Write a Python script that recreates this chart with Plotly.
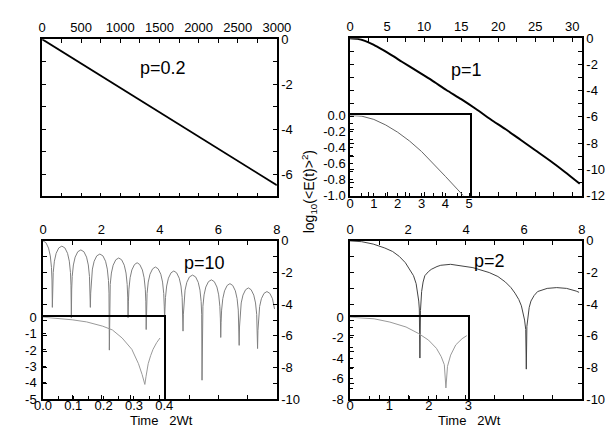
import plotly.graph_objects as go

W, H = 613, 433

# ---------------- data ----------------
# Panel p=0.2 (top-left)
p02_t = [0, 500, 1000, 1500, 2000, 2500, 3000]
p02_y = [0, -1.08, -2.17, -3.25, -4.33, -5.42, -6.5]

# Panel p=1 (top-right) main curve
p1_t = [0, 1, 2, 3, 4, 5, 6, 7, 9, 11, 13, 15, 17, 19, 21, 23, 25, 27, 29, 31]
p1_y = [0, -0.05, -0.21, -0.46, -0.76, -1.08, -1.43, -1.8, -2.5, -3.2, -3.95, -4.65,
        -5.4, -6.2, -6.95, -7.75, -8.55, -9.35, -10.2, -11.1]
# Panel p=1 inset
p1i_t = [0, 0.5, 1, 1.5, 2, 2.5, 3, 3.5, 4, 4.5, 4.75]
p1i_y = [0, -0.01, -0.05, -0.12, -0.21, -0.32, -0.45, -0.6, -0.76, -0.92, -1.0]

# Panel p=10 (bottom-left) main curve
p10_t = [0, 0.1, 0.19, 0.25, 0.29, 0.308, 0.32,
         0.332, 0.35, 0.39, 0.45, 0.54, 0.645, 0.75, 0.84, 0.90, 0.94, 0.958, 0.97,
         0.982, 1.00, 1.04, 1.10, 1.19, 1.295, 1.40, 1.49, 1.55, 1.59, 1.608, 1.62,
         1.632, 1.65, 1.69, 1.75, 1.84, 1.945, 2.05, 2.14, 2.20, 2.24, 2.258, 2.27,
         2.282, 2.30, 2.34, 2.40, 2.49, 2.59, 2.69, 2.78, 2.84, 2.88, 2.898, 2.91,
         2.922, 2.94, 2.98, 3.04, 3.13, 3.22, 3.31, 3.40, 3.46, 3.50, 3.518, 3.53,
         3.542, 3.56, 3.60, 3.66, 3.75, 3.845, 3.94, 4.03, 4.09, 4.13, 4.148, 4.16,
         4.172, 4.19, 4.23, 4.29, 4.38, 4.475, 4.57, 4.66, 4.72, 4.76, 4.778, 4.79,
         4.802, 4.82, 4.86, 4.92, 5.01, 5.115, 5.22, 5.31, 5.37, 5.41, 5.428, 5.44,
         5.452, 5.47, 5.51, 5.57, 5.66, 5.76, 5.86, 5.95, 6.01, 6.05, 6.068, 6.08,
         6.092, 6.11, 6.15, 6.21, 6.30, 6.395, 6.49, 6.58, 6.64, 6.68, 6.698, 6.71,
         6.722, 6.74, 6.78, 6.84, 6.93, 7.025, 7.12, 7.21, 7.27, 7.31, 7.328, 7.34,
         7.352, 7.37, 7.41, 7.47, 7.56, 7.66, 7.76, 7.85, 7.92]
p10_y = [0, -0.11, -0.455, -0.95, -1.67, -2.47, -4.2,
         -2.80, -2.00, -1.28, -0.785, -0.444, -0.33, -0.444, -0.785, -1.28, -2.00, -2.80, -4.85,
         -3.04, -2.24, -1.52, -1.025, -0.684, -0.57, -0.684, -1.025, -1.52, -2.24, -3.04, -4.2,
         -3.30, -2.50, -1.78, -1.285, -0.944, -0.83, -0.944, -1.285, -1.78, -2.50, -3.30, -6.9,
         -3.55, -2.75, -2.03, -1.535, -1.194, -1.08, -1.194, -1.535, -2.03, -2.75, -3.55, -4.85,
         -3.85, -3.05, -2.33, -1.835, -1.494, -1.38, -1.494, -1.835, -2.33, -3.05, -3.85, -5.6,
         -4.12, -3.32, -2.60, -2.105, -1.764, -1.65, -1.764, -2.105, -2.60, -3.32, -4.12, -4.9,
         -4.37, -3.57, -2.85, -2.355, -2.014, -1.9, -2.014, -2.355, -2.85, -3.57, -4.37, -5.7,
         -4.63, -3.83, -3.11, -2.615, -2.274, -2.16, -2.274, -2.615, -3.11, -3.83, -4.63, -8.8,
         -4.93, -4.13, -3.41, -2.915, -2.574, -2.46, -2.574, -2.915, -3.41, -4.13, -4.93, -6.1,
         -5.17, -4.37, -3.65, -3.155, -2.814, -2.7, -2.814, -3.155, -3.65, -4.37, -5.17, -6.6,
         -5.44, -4.64, -3.92, -3.425, -3.084, -2.97, -3.084, -3.425, -3.92, -4.64, -5.44, -6.8,
         -5.67, -4.87, -4.15, -3.655, -3.314, -3.2, -3.314, -3.655, -4.3]
# Panel p=10 inset
p10i_t = [0, 0.048, 0.096, 0.144, 0.197, 0.229, 0.261, 0.293, 0.315, 0.327, 0.333,
          0.336, 0.34, 0.347, 0.355, 0.363, 0.375, 0.386]
p10i_y = [0, -0.06, -0.16, -0.29, -0.55, -0.78, -1.27, -1.96, -2.84, -3.5, -3.95,
          -4.1, -3.6, -2.84, -2.35, -1.96, -1.55, -1.27]

# Panel p=2 (bottom-right) main curve
p2_t = [0, 0.4, 0.8, 1.2, 1.47, 1.7, 1.91, 2.05, 2.19, 2.28, 2.33, 2.37, 2.39, 2.41,
        2.43, 2.45, 2.47, 2.52, 2.58, 2.7, 2.8, 3.0, 3.13, 3.47, 3.8, 4.24, 4.8, 5.1,
        5.36, 5.55, 5.69, 5.82, 5.91, 5.97, 6.02, 6.06, 6.08, 6.10, 6.13, 6.18, 6.24,
        6.35, 6.47, 6.8, 7.13, 7.47, 7.8, 7.9]
p2_y = [0, -0.05, -0.2, -0.45, -0.67, -0.98, -1.38, -1.75, -2.2, -2.7, -3.2, -3.8,
        -4.3, -7.4, -4.4, -3.7, -3.2, -2.6, -2.2, -1.95, -1.8, -1.62, -1.54, -1.48,
        -1.55, -1.69, -2.0, -2.25, -2.6, -2.95, -3.3, -3.7, -4.1, -4.5, -5.0, -5.6,
        -8.1, -5.4, -4.8, -4.2, -3.8, -3.45, -3.2, -3.0, -2.95, -3.0, -3.17, -3.25]
# Panel p=2 inset
p2i_t = [0, 0.61, 1.01, 1.42, 1.74, 1.99, 2.19, 2.31, 2.39, 2.43, 2.47, 2.55, 2.68,
         2.84, 2.96]
p2i_y = [0, -0.16, -0.48, -0.96, -1.6, -2.24, -3.04, -3.84, -4.64, -6.9, -4.8, -3.7,
         -2.7, -2.1, -1.8]

# ---------------- tick labels ----------------
ax1_xvals = [0, 250, 500, 750, 1000, 1250, 1500, 1750, 2000, 2250, 2500, 2750, 3000]
ax1_xtext = ["0", "", "500", "", "1000", "", "1500", "", "2000", "", "2500", "", "3000"]
ax1_yvals = [0, -1, -2, -3, -4, -5, -6, -7]
ax1_ytext = ["0", "", "-2", "", "-4", "", "-6", ""]

ax2_xvals = [0, 2.5, 5, 7.5, 10, 12.5, 15, 17.5, 20, 22.5, 25, 27.5, 30]
ax2_xtext = ["0", "", "5", "", "10", "", "15", "", "20", "", "25", "", "30"]
ax2_yvals = [0, -1, -2, -3, -4, -5, -6, -7, -8, -9, -10, -11, -12]
ax2_ytext = ["0", "", "-2", "", "-4", "", "-6", "", "-8", "", "-10", "", "-12"]

ax34_xvals = [0, 1, 2, 3, 4, 5, 6, 7, 8]
ax34_xtext = ["0", "", "2", "", "4", "", "6", "", "8"]
ax34_yvals = [0, -1, -2, -3, -4, -5, -6, -7, -8, -9, -10]
ax34_ytext = ["0", "", "-2", "", "-4", "", "-6", "", "-8", "", "-10"]

in2_xvals = [0, 0.5, 1, 1.5, 2, 2.5, 3, 3.5, 4, 4.5, 5]
in2_xtext = ["0", "", "1", "", "2", "", "3", "", "4", "", "5"]
in2_yvals = [0, -0.1, -0.2, -0.3, -0.4, -0.5, -0.6, -0.7, -0.8, -0.9, -1.0]
in2_ytext = ["0.0", "", "-0.2", "", "-0.4", "", "-0.6", "", "-0.8", "", "-1.0"]

in3_xvals = [0, 0.05, 0.1, 0.15, 0.2, 0.25, 0.3, 0.35, 0.4]
in3_xtext = ["0.0", "", "0.1", "", "0.2", "", "0.3", "", "0.4"]
in3_yvals = [0, -1, -2, -3, -4, -5]
in3_ytext = ["0", "-1", "-2", "-3", "-4", "-5"]

in4_xvals = [0, 0.5, 1, 1.5, 2, 2.5, 3]
in4_xtext = ["0", "", "1", "", "2", "", "3"]
in4_yvals = [0, -1, -2, -3, -4, -5, -6, -7, -8]
in4_ytext = ["0", "", "-2", "", "-4", "", "-6", "", "-8"]

# ---------------- figure ----------------
FONT = "Liberation Sans, Arial, sans-serif"


def px_x(p):
    return p / W


def px_y(p):
    return 1 - p / H


fig = go.Figure()

fig.add_trace(go.Scatter(x=p02_t, y=p02_y, xaxis="x", yaxis="y", mode="lines",
                         line=dict(color="black", width=1.8)))
fig.add_trace(go.Scatter(x=p1_t, y=p1_y, xaxis="x2", yaxis="y2", mode="lines",
                         line=dict(color="black", width=2, shape="spline", smoothing=0.6)))
fig.add_trace(go.Scatter(x=p10_t, y=p10_y, xaxis="x3", yaxis="y3", mode="lines",
                         line=dict(color="#808080", width=1)))
fig.add_trace(go.Scatter(x=p2_t, y=p2_y, xaxis="x4", yaxis="y4", mode="lines",
                         line=dict(color="#444444", width=1)))
fig.add_trace(go.Scatter(x=p1i_t, y=p1i_y, xaxis="x5", yaxis="y5", mode="lines",
                         line=dict(color="#666666", width=1)))
fig.add_trace(go.Scatter(x=p10i_t, y=p10i_y, xaxis="x6", yaxis="y6", mode="lines",
                         line=dict(color="#999999", width=1)))
fig.add_trace(go.Scatter(x=p2i_t, y=p2i_y, xaxis="x7", yaxis="y7", mode="lines",
                         line=dict(color="#999999", width=1)))

tickfont = dict(family=FONT, size=13, color="black")


def axis(dom, rng, vals, text, anchor, side, mirror, ticklen, standoff=0):
    return dict(domain=dom, range=rng, side=side, anchor=anchor, showline=True,
                mirror=mirror, linecolor="black", linewidth=1.5, ticks="inside",
                ticklen=ticklen, tickcolor="black", tickmode="array", tickvals=vals,
                ticktext=text, showgrid=False, zeroline=False, tickfont=tickfont,
                ticklabelstandoff=standoff, fixedrange=True)


d1x = [px_x(26), px_x(270)]
d1y = [px_y(188), px_y(25)]
d2x = [px_x(346), px_x(587)]
d2y = [px_y(187), px_y(24)]
d3x = [px_x(27), px_x(270)]
d3y = [px_y(398), px_y(234)]
d4x = [px_x(346), px_x(587)]
d4y = [px_y(398), px_y(234)]
d5x = [px_x(346), px_x(471)]
d5y = [px_y(187), px_y(104)]
d6x = [px_x(27), px_x(153)]
d6y = [px_y(398), px_y(313)]
d7x = [px_x(346), px_x(469)]
d7y = [px_y(398), px_y(313)]

fig.update_layout(
    width=W, height=H, autosize=False,
    margin=dict(l=0, r=0, t=0, b=0, pad=0),
    paper_bgcolor="white", plot_bgcolor="rgba(0,0,0,0)",
    showlegend=False,
    font=dict(family=FONT, size=13, color="black"),
    xaxis=axis(d1x, [0, 3000], ax1_xvals, ax1_xtext, "y", "top", "ticks", 4),
    yaxis=axis(d1y, [-7, 0], ax1_yvals, ax1_ytext, "x", "right", "ticks", 4),
    xaxis2=axis(d2x, [0, 31.3], ax2_xvals, ax2_xtext, "y2", "top", "ticks", 4),
    yaxis2=axis(d2y, [-12, 0], ax2_yvals, ax2_ytext, "x2", "right", "ticks", 4),
    xaxis3=axis(d3x, [0, 8], ax34_xvals, ax34_xtext, "y3", "top", "ticks", 4),
    yaxis3=axis(d3y, [-10, 0], ax34_yvals, ax34_ytext, "x3", "right", "ticks", 4),
    xaxis4=axis(d4x, [0, 8], ax34_xvals, ax34_xtext, "y4", "top", "ticks", 4),
    yaxis4=axis(d4y, [-10, 0], ax34_yvals, ax34_ytext, "x4", "right", "ticks", 4),
    xaxis5=axis(d5x, [0, 5.05], in2_xvals, in2_xtext, "y5", "bottom", True, 3, -5),
    yaxis5=axis(d5y, [-1, 0], in2_yvals, in2_ytext, "x5", "left", True, 3),
    xaxis6=axis(d6x, [0, 0.4], in3_xvals, in3_xtext, "y6", "bottom", True, 3, -7),
    yaxis6=axis(d6y, [-5, 0], in3_yvals, in3_ytext, "x6", "left", True, 3, 2),
    xaxis7=axis(d7x, [0, 3], in4_xvals, in4_xtext, "y7", "bottom", True, 3, -7),
    yaxis7=axis(d7y, [-8, 0], in4_yvals, in4_ytext, "x7", "left", True, 3, 2),
)

labels = [
    ("p=0.2", 152, 55, 18, 0),
    ("p=1", 467, 57, 18, 0),
    ("p=10", 195, 257, 18, 0),
    ("p=2", 491, 255, 18, 0),
    ("Time\u00a0\u00a0\u00a02Wt", 150, 420, 13, 0),
    ("Time\u00a0\u00a0\u00a02Wt", 470, 420, 13, 0),
    ("log<sub>10</sub>(&lt;E(t)&gt;<sup>2</sup>)", 303, 183, 14, -90),
]
for txt, x, y, s, ang in labels:
    fig.add_annotation(text=txt, x=px_x(x), y=px_y(y), xref="paper", yref="paper",
                       xanchor="center", yanchor="middle", showarrow=False,
                       textangle=ang, font=dict(family=FONT, size=s, color="black"))

fig.write_html("out.html")
